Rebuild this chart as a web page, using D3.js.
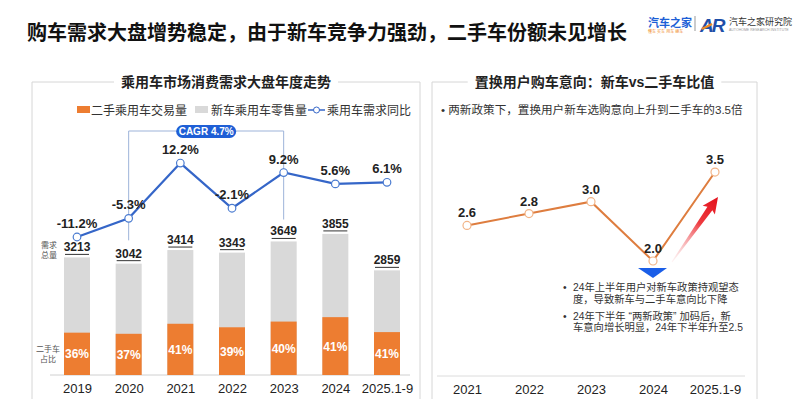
<!DOCTYPE html>
<html>
<head>
<meta charset="utf-8">
<script src="https://cdn.jsdelivr.net/npm/d3@7"></script>
<style>
body { margin: 0; background: #fff; }
text { font-family: "Liberation Sans", Arial, "Noto Sans CJK SC", sans-serif; }
</style>
</head>
<body>
<svg width="800" height="399"></svg>
<script>
// left chart data
var years = ["2019", "2020", "2021", "2022", "2023", "2024", "2025.1-9"];
var totalDemand = [3213, 3042, 3414, 3343, 3649, 3855, 2859];
var usedShare = [36, 37, 41, 39, 40, 41, 41];
var demandYoY = [-11.2, -5.3, 12.2, -2.1, 9.2, 5.6, 6.1];
var seriesNames = ["二手乘用车交易量", "新车乘用车零售量", "乘用车需求同比"];

// right chart data
var ratioYears = ["2021", "2022", "2023", "2024", "2025.1-9"];
var newVsUsed = [2.6, 2.8, 3.0, 2.0, 3.5];

var orange = "#ed7d31", grey = "#d9d9d9", blue = "#3566c8";

var svg = d3.select("svg");
svg.append("rect").attr("width", 800).attr("height", 399).attr("fill", "#fff");

// page title
svg.append("text")
    .attr("x", 27).attr("y", 40)
    .attr("font-size", 20).attr("font-weight", "bold").attr("fill", "#111")
    .text("购车需求大盘增势稳定，由于新车竞争力强劲，二手车份额未见增长");

// logo
var logo = svg.append("g");
logo.append("text").attr("x", 648).attr("y", 27)
    .attr("font-size", 11).attr("font-weight", "bold").attr("fill", "#1d5fd6")
    .text("汽车之家");
logo.append("text").attr("x", 648).attr("y", 33)
    .attr("font-size", 4).attr("fill", "#f08a24").text("懂车 买车 用车 换车");
logo.append("line").attr("x1", 695).attr("x2", 695).attr("y1", 16).attr("y2", 31)
    .attr("stroke", "#999");
logo.append("text").attr("x", 700).attr("y", 32)
    .attr("font-size", 19).attr("font-weight", "bold").attr("font-style", "italic")
    .attr("fill", "#1f4fa8").attr("letter-spacing", -2).text("AR");
logo.append("line").attr("x1", 702).attr("x2", 712).attr("y1", 29).attr("y2", 24)
    .attr("stroke", "#f08a24").attr("stroke-width", 2.5);
logo.append("text").attr("x", 729).attr("y", 25)
    .attr("font-size", 9).attr("fill", "#333").text("汽车之家研究院");
logo.append("text").attr("x", 729).attr("y", 31)
    .attr("font-size", 3.5).attr("fill", "#999").text("AUTOHOME RESEARCH INSTITUTE");

// panels
function panel(x0, x1, title) {
    var g = svg.append("g");
    g.append("path")
        .attr("d", "M" + x0 + ",420V82H" + x1 + "V420")
        .attr("fill", "none").attr("stroke", "#d6d6d6");
    var t = g.append("text")
        .attr("x", (x0 + x1) / 2).attr("y", 87)
        .attr("text-anchor", "middle")
        .attr("font-size", 14).attr("font-weight", "bold").attr("fill", "#222")
        .text(title);
    var bb = t.node().getBBox();
    g.insert("rect", "text")
        .attr("x", bb.x - 7).attr("y", 78).attr("width", bb.width + 14).attr("height", 8)
        .attr("fill", "#fff");
}
panel(32, 420, "乘用车市场消费需求大盘年度走势");
panel(432, 757, "置换用户购车意向：新车vs二手车比值");

// ---------- left chart ----------
var x = d3.scalePoint().domain(years).range([77, 387]);
var y = d3.scaleLinear().domain([0, 4000]).range([375, 228.6]);
var yPct = d3.scaleLinear().domain([-15, 15]).range([249, 154.2]);
var bw = 26;

var left = svg.append("g");

// legend
var legend = left.append("g").attr("font-size", 12).attr("fill", "#333");
legend.append("rect").attr("x", 77).attr("y", 106).attr("width", 13).attr("height", 7).attr("fill", orange);
legend.append("text").attr("x", 91).attr("y", 114.5).text(seriesNames[0]);
legend.append("rect").attr("x", 195).attr("y", 106).attr("width", 13).attr("height", 7).attr("fill", grey);
legend.append("text").attr("x", 211).attr("y", 114.5).text(seriesNames[1]);
legend.append("line").attr("x1", 308).attr("x2", 325).attr("y1", 110).attr("y2", 110)
    .attr("stroke", blue).attr("stroke-width", 1.5);
legend.append("circle").attr("cx", 316.5).attr("cy", 110).attr("r", 3)
    .attr("fill", "#fff").attr("stroke", blue);
legend.append("text").attr("x", 327).attr("y", 114.5).text(seriesNames[2]);

// CAGR bracket
var cx0 = x("2020"), cx1 = x("2023");
left.append("path")
    .attr("d", "M" + cx0 + "," + (yPct(demandYoY[1]) + 22) + "V131H" + cx1 + "V" + (yPct(demandYoY[4]) + 47))
    .attr("fill", "none").attr("stroke", "#9db3d9").attr("stroke-width", 1);
left.append("rect")
    .attr("x", (cx0 + cx1) / 2 - 30).attr("y", 125).attr("width", 60).attr("height", 13)
    .attr("rx", 6.5).attr("fill", "#1f5fd6");
left.append("text")
    .attr("x", (cx0 + cx1) / 2).attr("y", 135)
    .attr("text-anchor", "middle").attr("font-size", 10).attr("font-weight", "bold")
    .attr("fill", "#fff").text("CAGR 4.7%");

// axis
var xAxis = d3.axisBottom(x).tickSize(0).tickPadding(9);
left.append("g")
    .attr("transform", "translate(0,375)")
    .call(xAxis)
    .call(function(g) {
        g.select(".domain").attr("d", "M50,0H410").attr("stroke", "#d0d0d0");
        g.selectAll("text").attr("font-size", 13).attr("fill", "#222")
            .attr("font-family", "Liberation Sans, Arial, sans-serif");
    });

// bars
var bars = left.append("g").selectAll("g").data(years).enter().append("g");
bars.append("rect")
    .attr("x", function(d) { return x(d) - bw / 2; })
    .attr("y", function(d, i) { return y(totalDemand[i]); })
    .attr("width", bw)
    .attr("height", function(d, i) { return 375 - y(totalDemand[i]); })
    .attr("fill", grey);
bars.append("rect")
    .attr("x", function(d) { return x(d) - bw / 2; })
    .attr("y", function(d, i) { return y(totalDemand[i] * usedShare[i] / 100); })
    .attr("width", bw)
    .attr("height", function(d, i) { return 375 - y(totalDemand[i] * usedShare[i] / 100); })
    .attr("fill", orange);
bars.append("text")
    .attr("x", function(d) { return x(d); })
    .attr("y", function(d, i) { return (375 + y(totalDemand[i] * usedShare[i] / 100)) / 2 + 4.5; })
    .attr("text-anchor", "middle").attr("font-size", 12).attr("font-weight", "bold")
    .attr("fill", "#fff")
    .text(function(d, i) { return usedShare[i] + "%"; });
bars.append("text")
    .attr("x", function(d) { return x(d); })
    .attr("y", function(d, i) { return y(totalDemand[i]) - 6; })
    .attr("text-anchor", "middle").attr("font-size", 12).attr("font-weight", "bold")
    .attr("fill", "#222")
    .text(function(d, i) { return totalDemand[i]; });
bars.append("line")
    .attr("x1", function(d) { return x(d) - 12; })
    .attr("x2", function(d) { return x(d) + 12; })
    .attr("y1", function(d, i) { return y(totalDemand[i]) - 3; })
    .attr("y2", function(d, i) { return y(totalDemand[i]) - 3; })
    .attr("stroke", "#333").attr("stroke-width", 1);

// side labels
var side = left.append("g").attr("font-size", 8).attr("fill", "#555").attr("text-anchor", "middle")
    .attr("font-family", "Noto Sans CJK SC");
side.append("text").attr("x", 49).attr("y", 248).text("需求");
side.append("text").attr("x", 49).attr("y", 258).text("总量");
side.append("text").attr("x", 48).attr("y", 352).text("二手车");
side.append("text").attr("x", 48).attr("y", 362).text("占比");

// YoY line
var line = d3.line()
    .x(function(d, i) { return x(years[i]); })
    .y(function(d) { return yPct(d); });
left.append("path").datum(demandYoY)
    .attr("d", line).attr("fill", "none").attr("stroke", blue).attr("stroke-width", 2.2);
left.selectAll(".yoy").data(demandYoY).enter().append("circle")
    .attr("cx", function(d, i) { return x(years[i]); })
    .attr("cy", function(d) { return yPct(d); })
    .attr("r", 3.8).attr("fill", "#fff").attr("stroke", "#4a7bd0").attr("stroke-width", 1.2);
left.selectAll(".yoyLabel").data(demandYoY).enter().append("text")
    .attr("x", function(d, i) { return x(years[i]); })
    .attr("y", function(d) { return yPct(d) - 9; })
    .attr("text-anchor", "middle").attr("font-size", 13).attr("font-weight", "bold")
    .attr("fill", "#222")
    .text(function(d) { return d.toFixed(1) + "%"; });

// ---------- right chart ----------
var x2 = d3.scalePoint().domain(ratioYears).range([467, 715]);
var y2 = d3.scaleLinear().domain([0, 4]).range([379.6, 142.4]);
var right = svg.append("g");

right.append("text").attr("x", 441).attr("y", 114).attr("font-size", 11.6).attr("fill", "#333")
    .text("•  两新政策下，置换用户新车选购意向上升到二手车的3.5倍");

right.append("g")
    .attr("transform", "translate(0,376)")
    .call(d3.axisBottom(x2).tickSize(0).tickPadding(9))
    .call(function(g) {
        g.select(".domain").attr("d", "M437,0H745").attr("stroke", "#dcdcdc");
        g.selectAll("text").attr("font-size", 13).attr("fill", "#222")
            .attr("font-family", "Liberation Sans, Arial, sans-serif");
    });

// red arrow, gradient along its body
var defs = svg.append("defs");
var grad = defs.append("linearGradient").attr("id", "arrowGrad")
    .attr("gradientUnits", "userSpaceOnUse")
    .attr("x1", 0).attr("x2", 80).attr("y1", 0).attr("y2", 0);
grad.append("stop").attr("offset", 0).attr("stop-color", "#f7c6c8").attr("stop-opacity", 0.2);
grad.append("stop").attr("offset", 0.6).attr("stop-color", "#ee3a3f");
grad.append("stop").attr("offset", 1).attr("stop-color", "#e3101b");
var ax0 = x2("2024") + 19, ay0 = y2(2.0) + 1;
var ax1 = x2("2025.1-9") + 3, ay1 = y2(3.5) + 25;
var ang = Math.atan2(ay1 - ay0, ax1 - ax0) * 180 / Math.PI;
var len = Math.hypot(ax1 - ax0, ay1 - ay0);
right.append("path")
    .attr("transform", "translate(" + ax0 + "," + ay0 + ") rotate(" + ang + ")")
    .attr("d", "M0,-0.5L" + (len - 14) + ",-3L" + (len - 16) + ",-7.5L" + len + ",0L" +
        (len - 16) + ",7.5L" + (len - 14) + ",3L0,0.5Z")
    .attr("fill", "url(#arrowGrad)");

// blue down triangle under 2024
var tx = x2("2024"), ty = y2(2.0) + 7;
right.append("path")
    .attr("d", "M" + (tx - 15) + "," + ty + "L" + (tx + 14) + "," + ty + "L" + tx + "," + (ty + 10) + "Z")
    .attr("fill", "#1a5ee8");

var line2 = d3.line()
    .x(function(d, i) { return x2(ratioYears[i]); })
    .y(function(d) { return y2(d); });
right.append("path").datum(newVsUsed)
    .attr("d", line2).attr("fill", "none").attr("stroke", "#de7d3f").attr("stroke-width", 2);
right.selectAll(".pt").data(newVsUsed).enter().append("circle")
    .attr("cx", function(d, i) { return x2(ratioYears[i]); })
    .attr("cy", function(d) { return y2(d); })
    .attr("r", 4).attr("fill", "#fff").attr("stroke", "#f2b487").attr("stroke-width", 1.2);
right.selectAll(".ptLabel").data(newVsUsed).enter().append("text")
    .attr("x", function(d, i) { return x2(ratioYears[i]); })
    .attr("y", function(d) { return y2(d) - 8; })
    .attr("text-anchor", "middle").attr("font-size", 13).attr("font-weight", "bold")
    .attr("fill", "#222")
    .text(function(d) { return d.toFixed(1); });

// notes
var notes = right.append("g").attr("font-size", 10.3).attr("fill", "#333")
    .attr("font-family", "Noto Sans CJK SC");
var noteLines = [
    ["•", "24年上半年用户对新车政策持观望态", 291],
    ["", "度，导致新车与二手车意向比下降", 303],
    ["•", "24年下半年 “两新政策” 加码后，新", 320],
    ["", "车意向增长明显，24年下半年升至2.5", 331]
];
noteLines.forEach(function(n) {
    notes.append("text").attr("x", 563).attr("y", n[2]).text(n[0]);
    notes.append("text").attr("x", 573).attr("y", n[2]).text(n[1]);
});
</script>
</body>
</html>
